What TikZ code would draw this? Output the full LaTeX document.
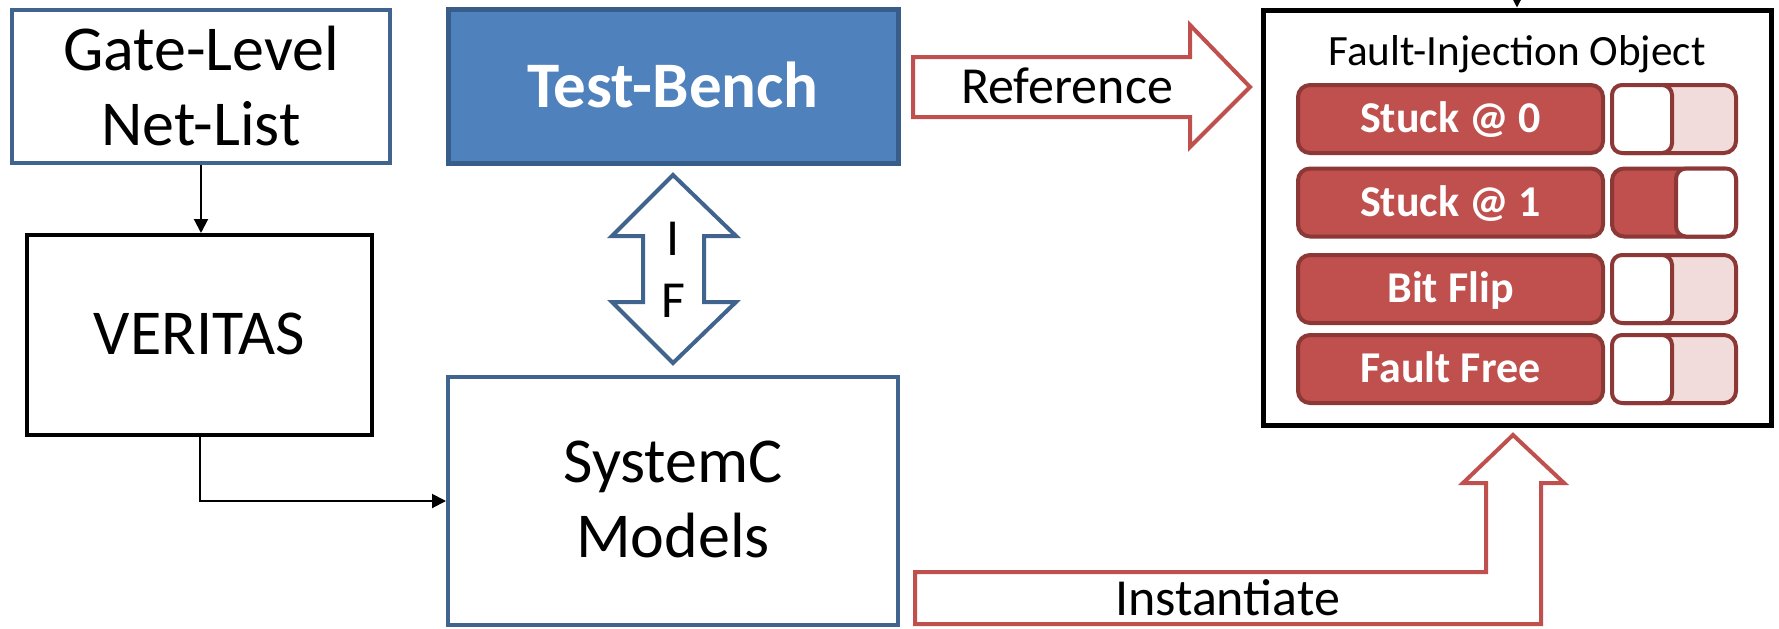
\documentclass[tikz,border=0pt]{standalone}
\usepackage{fontspec}
\setmainfont{Carlito}
\usetikzlibrary{arrows.meta}

\definecolor{boxblue}{HTML}{41648F}
\definecolor{tbfill}{HTML}{4F81BD}
\definecolor{tbline}{HTML}{385D8A}
\definecolor{fired}{HTML}{C0504D}
\definecolor{firedark}{HTML}{8C3836}
\definecolor{firepink}{HTML}{F2DCDB}

% two centred lines, baseline on the first one
\newcommand{\stackpair}[2]{\begin{tabular}[t]{@{}c@{}}#1\\#2\end{tabular}}

\begin{document}
\begin{tikzpicture}[x=0.5pt,y=-0.5pt,
  bigtext/.style={font=\fontsize{32}{37.5}\selectfont},
  bluebox/.style={draw=boxblue,line width=2pt,fill=white,inner sep=0pt,bigtext},
  blackbox/.style={draw=black,line width=2pt,fill=white,inner sep=0pt,bigtext},
  benchbox/.style={draw=tbline,fill=tbfill,line width=2.5pt,inner sep=0pt,text=white,
    font=\fontsize{32.5}{40}\selectfont\bfseries,text height=21.5pt,text depth=0pt},
  flow/.style={line width=1pt,-{Triangle[length=7pt,width=7pt]}},
  blockred/.style={draw=fired,line width=2pt,fill=white,line join=miter},
  blockblue/.style={draw=boxblue,line width=2pt,fill=white,line join=miter},
  arrowlabel/.style={font=\fontsize{26}{31}\selectfont,anchor=base,inner sep=0pt},
  faultbtn/.style={draw=firedark,fill=fired,line width=2pt,rounded corners=6pt,
    minimum width=152.5pt,minimum height=34pt,inner sep=0pt,text=white,
    font=\fontsize{22}{26}\selectfont\bfseries,text height=13.5pt,text depth=0pt},
  toggle/.style={draw=firedark,line width=2pt,rounded corners=6pt,
    minimum width=62pt,minimum height=34pt,inner sep=0pt},
  knob/.style={draw=firedark,fill=white,line width=2pt,rounded corners=5pt,
    minimum width=30pt,minimum height=34pt,inner sep=0pt}
]
\clip (0,0) rectangle (1779,628);
\fill[white] (0,0) rectangle (1779,628);

% left column
\node[bluebox,minimum width=189pt,minimum height=76.5pt,text height=21pt,text depth=37.5pt]
  (gate) at (201,86.5) {\stackpair{Gate-Level}{Net-List}};
\node[blackbox,minimum width=172.5pt,minimum height=100pt,text height=19pt,text depth=0pt]
  (veritas) at (199.5,335) {VERITAS};

% middle column
\node[benchbox,minimum width=225pt,minimum height=77pt] (bench) at (673,86) {Test-Bench};
\node[bluebox,minimum width=225pt,minimum height=124pt,text height=20pt,text depth=38.5pt]
  (sysc) at (673,501) {\stackpair{SystemC}{Models}};

% fault-injection object
\node[draw=black,line width=2.5pt,fill=white,minimum width=254pt,minimum height=207.5pt,inner sep=0pt]
  (fio) at (1517,217.5) {};
\node[font=\fontsize{21.6}{26}\selectfont,anchor=base,inner sep=0pt] (fiotitle) at (1517,65)
  {Fault-Injection Object};

\node[faultbtn] (s0) at (1450.5,119) {Stuck @ 0};
\node[toggle,fill=firepink] (t0) at (1674,119) {};
\node[knob,anchor=west] (k0) at (t0.west) {};

\node[faultbtn] (s1) at (1450.5,202.5) {Stuck @ 1};
\node[toggle,fill=fired] (t1) at (1674,202.5) {};
\node[knob,anchor=east] (k1) at (t1.east) {};

\node[faultbtn] (bf) at (1450.5,289) {Bit Flip};
\node[toggle,fill=firepink] (t2) at (1674,289) {};
\node[knob,anchor=west] (k2) at (t2.west) {};

\node[faultbtn] (ff) at (1450.5,369) {Fault Free};
\node[toggle,fill=firepink] (t3) at (1674,369) {};
\node[knob,anchor=west] (k3) at (t3.west) {};

% thin flow connectors
\draw[flow] (gate.south) -- (gate.south |- veritas.north);
\draw[flow] (veritas.south) |- (sysc.west);
\coordinate (feed) at (1517,-40);
\draw[flow] (feed) -- (fio.north);

% block arrows
\draw[blockred] (913,57) -- (1190,57) -- (1190,25) -- (1250,87) -- (1190,147)
  -- (1190,117) -- (913,117) -- cycle;
\node[arrowlabel] (reflbl) at (1067,103) {Reference};

\draw[blockblue] (673,175) -- (736,236) -- (704,236) -- (704,302) -- (736,302)
  -- (673,363) -- (612,302) -- (643,302) -- (643,236) -- (612,236) -- cycle;
\node[arrowlabel] (iflbl) at (673,255) {\stackpair{I}{F}};

\draw[blockred] (915,572) -- (1486,572) -- (1486,483) -- (1463,483) -- (1513,435)
  -- (1564,483) -- (1541,483) -- (1541,624) -- (915,624) -- cycle;
\node[arrowlabel] (instlbl) at (1227.5,615) {Instantiate};
\end{tikzpicture}
\end{document}
